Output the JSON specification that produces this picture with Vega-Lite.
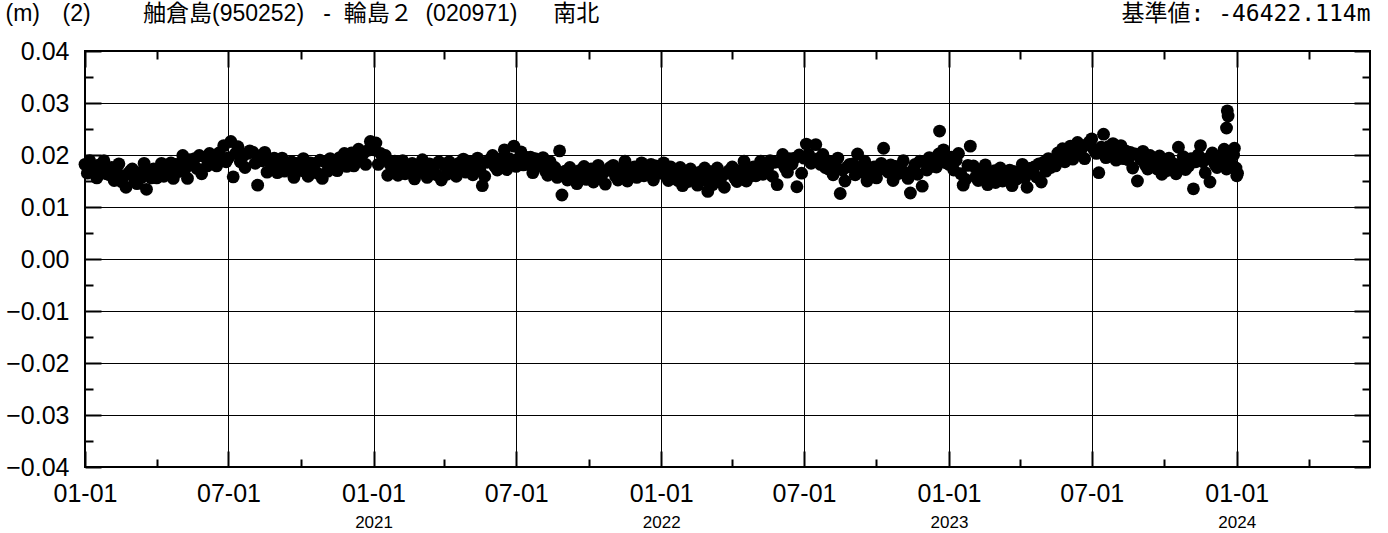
{
  "$schema": "https://vega.github.io/schema/vega-lite/v6.json",
  "width": 1285,
  "height": 416,
  "autosize": {"type": "none"},
  "padding": {"left": 85, "top": 51, "right": 18, "bottom": 66},
  "background": "white",
  "config": {"view": {"stroke": "black", "strokeWidth": 2}, "axis": {"domain": false}},
  "data": {"values": [
{"t":"2020-01-01","v":0.0182},{"t":"2020-01-04","v":0.0165},{"t":"2020-01-07","v":0.0189},{"t":"2020-01-10","v":0.0172},{"t":"2020-01-13","v":0.0178},{"t":"2020-01-16","v":0.0156},{"t":"2020-01-19","v":0.0181},{"t":"2020-01-22","v":0.0170},{"t":"2020-01-25","v":0.0189},{"t":"2020-01-28","v":0.0164},
{"t":"2020-02-01","v":0.0162},{"t":"2020-02-04","v":0.0176},{"t":"2020-02-07","v":0.0151},{"t":"2020-02-10","v":0.0170},{"t":"2020-02-13","v":0.0183},{"t":"2020-02-16","v":0.0149},{"t":"2020-02-19","v":0.0159},{"t":"2020-02-22","v":0.0138},{"t":"2020-02-25","v":0.0165},{"t":"2020-02-28","v":0.0170},
{"t":"2020-03-01","v":0.0173},{"t":"2020-03-04","v":0.0152},{"t":"2020-03-07","v":0.0145},{"t":"2020-03-10","v":0.0166},{"t":"2020-03-13","v":0.0157},{"t":"2020-03-16","v":0.0184},{"t":"2020-03-19","v":0.0134},{"t":"2020-03-22","v":0.0167},{"t":"2020-03-25","v":0.0156},{"t":"2020-03-28","v":0.0173},
{"t":"2020-04-01","v":0.0156},{"t":"2020-04-04","v":0.0171},{"t":"2020-04-07","v":0.0184},{"t":"2020-04-10","v":0.0159},{"t":"2020-04-13","v":0.0174},{"t":"2020-04-16","v":0.0171},{"t":"2020-04-19","v":0.0185},{"t":"2020-04-22","v":0.0155},{"t":"2020-04-25","v":0.0182},{"t":"2020-04-28","v":0.0168},
{"t":"2020-05-01","v":0.0184},{"t":"2020-05-04","v":0.0199},{"t":"2020-05-07","v":0.0173},{"t":"2020-05-10","v":0.0155},{"t":"2020-05-13","v":0.0191},{"t":"2020-05-16","v":0.0182},{"t":"2020-05-19","v":0.0193},{"t":"2020-05-22","v":0.0174},{"t":"2020-05-25","v":0.0199},{"t":"2020-05-28","v":0.0164},
{"t":"2020-06-01","v":0.0196},{"t":"2020-06-04","v":0.0179},{"t":"2020-06-07","v":0.0203},{"t":"2020-06-10","v":0.0186},{"t":"2020-06-13","v":0.0192},{"t":"2020-06-16","v":0.0179},{"t":"2020-06-19","v":0.0204},{"t":"2020-06-22","v":0.0193},{"t":"2020-06-25","v":0.0218},{"t":"2020-06-28","v":0.0187},
{"t":"2020-07-01","v":0.0195},{"t":"2020-07-04","v":0.0226},{"t":"2020-07-07","v":0.0158},{"t":"2020-07-10","v":0.0203},{"t":"2020-07-13","v":0.0216},{"t":"2020-07-16","v":0.0187},{"t":"2020-07-19","v":0.0197},{"t":"2020-07-22","v":0.0176},{"t":"2020-07-25","v":0.0203},{"t":"2020-07-28","v":0.0208},
{"t":"2020-08-01","v":0.0205},{"t":"2020-08-04","v":0.0184},{"t":"2020-08-07","v":0.0142},{"t":"2020-08-10","v":0.0198},{"t":"2020-08-13","v":0.0189},{"t":"2020-08-16","v":0.0205},{"t":"2020-08-19","v":0.0167},{"t":"2020-08-22","v":0.0188},{"t":"2020-08-25","v":0.0177},{"t":"2020-08-28","v":0.0194},
{"t":"2020-09-01","v":0.0166},{"t":"2020-09-04","v":0.0181},{"t":"2020-09-07","v":0.0194},{"t":"2020-09-10","v":0.0169},{"t":"2020-09-13","v":0.0184},{"t":"2020-09-16","v":0.0173},{"t":"2020-09-19","v":0.0187},{"t":"2020-09-22","v":0.0157},{"t":"2020-09-25","v":0.0184},{"t":"2020-09-28","v":0.0170},
{"t":"2020-10-01","v":0.0178},{"t":"2020-10-04","v":0.0193},{"t":"2020-10-07","v":0.0167},{"t":"2020-10-10","v":0.0159},{"t":"2020-10-13","v":0.0185},{"t":"2020-10-16","v":0.0173},{"t":"2020-10-19","v":0.0184},{"t":"2020-10-22","v":0.0165},{"t":"2020-10-25","v":0.0190},{"t":"2020-10-28","v":0.0155},
{"t":"2020-11-01","v":0.0186},{"t":"2020-11-04","v":0.0169},{"t":"2020-11-07","v":0.0193},{"t":"2020-11-10","v":0.0176},{"t":"2020-11-13","v":0.0182},{"t":"2020-11-16","v":0.0170},{"t":"2020-11-19","v":0.0195},{"t":"2020-11-22","v":0.0184},{"t":"2020-11-25","v":0.0203},{"t":"2020-11-28","v":0.0178},
{"t":"2020-12-01","v":0.0190},{"t":"2020-12-04","v":0.0204},{"t":"2020-12-07","v":0.0179},{"t":"2020-12-10","v":0.0198},{"t":"2020-12-13","v":0.0211},{"t":"2020-12-16","v":0.0193},{"t":"2020-12-19","v":0.0203},{"t":"2020-12-22","v":0.0182},{"t":"2020-12-25","v":0.0209},{"t":"2020-12-28","v":0.0226},
{"t":"2021-01-01","v":0.0210},{"t":"2021-01-04","v":0.0223},{"t":"2021-01-07","v":0.0182},{"t":"2021-01-10","v":0.0203},{"t":"2021-01-13","v":0.0194},{"t":"2021-01-16","v":0.0199},{"t":"2021-01-19","v":0.0161},{"t":"2021-01-22","v":0.0182},{"t":"2021-01-25","v":0.0171},{"t":"2021-01-28","v":0.0188},
{"t":"2021-02-01","v":0.0161},{"t":"2021-02-04","v":0.0176},{"t":"2021-02-07","v":0.0189},{"t":"2021-02-10","v":0.0164},{"t":"2021-02-13","v":0.0179},{"t":"2021-02-16","v":0.0170},{"t":"2021-02-19","v":0.0184},{"t":"2021-02-22","v":0.0154},{"t":"2021-02-25","v":0.0181},{"t":"2021-02-28","v":0.0167},
{"t":"2021-03-01","v":0.0176},{"t":"2021-03-04","v":0.0191},{"t":"2021-03-07","v":0.0165},{"t":"2021-03-10","v":0.0157},{"t":"2021-03-13","v":0.0183},{"t":"2021-03-16","v":0.0170},{"t":"2021-03-19","v":0.0181},{"t":"2021-03-22","v":0.0162},{"t":"2021-03-25","v":0.0187},{"t":"2021-03-28","v":0.0152},
{"t":"2021-04-01","v":0.0180},{"t":"2021-04-04","v":0.0163},{"t":"2021-04-07","v":0.0187},{"t":"2021-04-10","v":0.0170},{"t":"2021-04-13","v":0.0176},{"t":"2021-04-16","v":0.0159},{"t":"2021-04-19","v":0.0184},{"t":"2021-04-22","v":0.0173},{"t":"2021-04-25","v":0.0192},{"t":"2021-04-28","v":0.0167},
{"t":"2021-05-01","v":0.0173},{"t":"2021-05-04","v":0.0187},{"t":"2021-05-07","v":0.0162},{"t":"2021-05-10","v":0.0181},{"t":"2021-05-13","v":0.0194},{"t":"2021-05-16","v":0.0170},{"t":"2021-05-19","v":0.0141},{"t":"2021-05-22","v":0.0159},{"t":"2021-05-25","v":0.0186},{"t":"2021-05-28","v":0.0191},
{"t":"2021-06-01","v":0.0199},{"t":"2021-06-04","v":0.0178},{"t":"2021-06-07","v":0.0171},{"t":"2021-06-10","v":0.0192},{"t":"2021-06-13","v":0.0183},{"t":"2021-06-16","v":0.0210},{"t":"2021-06-19","v":0.0172},{"t":"2021-06-22","v":0.0193},{"t":"2021-06-25","v":0.0182},{"t":"2021-06-28","v":0.0217},
{"t":"2021-07-01","v":0.0178},{"t":"2021-07-04","v":0.0193},{"t":"2021-07-07","v":0.0206},{"t":"2021-07-10","v":0.0181},{"t":"2021-07-13","v":0.0196},{"t":"2021-07-16","v":0.0182},{"t":"2021-07-19","v":0.0196},{"t":"2021-07-22","v":0.0166},{"t":"2021-07-25","v":0.0193},{"t":"2021-07-28","v":0.0179},
{"t":"2021-08-01","v":0.0180},{"t":"2021-08-04","v":0.0195},{"t":"2021-08-07","v":0.0169},{"t":"2021-08-10","v":0.0161},{"t":"2021-08-13","v":0.0187},{"t":"2021-08-16","v":0.0165},{"t":"2021-08-19","v":0.0176},{"t":"2021-08-22","v":0.0157},{"t":"2021-08-25","v":0.0208},{"t":"2021-08-28","v":0.0123},
{"t":"2021-09-01","v":0.0169},{"t":"2021-09-04","v":0.0152},{"t":"2021-09-07","v":0.0176},{"t":"2021-09-10","v":0.0159},{"t":"2021-09-13","v":0.0165},{"t":"2021-09-16","v":0.0145},{"t":"2021-09-19","v":0.0170},{"t":"2021-09-22","v":0.0159},{"t":"2021-09-25","v":0.0178},{"t":"2021-09-28","v":0.0153},
{"t":"2021-10-01","v":0.0159},{"t":"2021-10-04","v":0.0173},{"t":"2021-10-07","v":0.0148},{"t":"2021-10-10","v":0.0167},{"t":"2021-10-13","v":0.0180},{"t":"2021-10-16","v":0.0155},{"t":"2021-10-19","v":0.0165},{"t":"2021-10-22","v":0.0144},{"t":"2021-10-25","v":0.0171},{"t":"2021-10-28","v":0.0176},
{"t":"2021-11-01","v":0.0180},{"t":"2021-11-04","v":0.0159},{"t":"2021-11-07","v":0.0152},{"t":"2021-11-10","v":0.0173},{"t":"2021-11-13","v":0.0164},{"t":"2021-11-16","v":0.0188},{"t":"2021-11-19","v":0.0150},{"t":"2021-11-22","v":0.0171},{"t":"2021-11-25","v":0.0160},{"t":"2021-11-28","v":0.0177},
{"t":"2021-12-01","v":0.0157},{"t":"2021-12-04","v":0.0172},{"t":"2021-12-07","v":0.0185},{"t":"2021-12-10","v":0.0160},{"t":"2021-12-13","v":0.0175},{"t":"2021-12-16","v":0.0168},{"t":"2021-12-19","v":0.0182},{"t":"2021-12-22","v":0.0152},{"t":"2021-12-25","v":0.0179},{"t":"2021-12-28","v":0.0165},
{"t":"2022-01-01","v":0.0170},{"t":"2022-01-04","v":0.0185},{"t":"2022-01-07","v":0.0159},{"t":"2022-01-10","v":0.0151},{"t":"2022-01-13","v":0.0177},{"t":"2022-01-16","v":0.0159},{"t":"2022-01-19","v":0.0170},{"t":"2022-01-22","v":0.0151},{"t":"2022-01-25","v":0.0176},{"t":"2022-01-28","v":0.0141},
{"t":"2022-02-01","v":0.0166},{"t":"2022-02-04","v":0.0149},{"t":"2022-02-07","v":0.0173},{"t":"2022-02-10","v":0.0156},{"t":"2022-02-13","v":0.0162},{"t":"2022-02-16","v":0.0142},{"t":"2022-02-19","v":0.0167},{"t":"2022-02-22","v":0.0156},{"t":"2022-02-25","v":0.0175},{"t":"2022-02-28","v":0.0150},
{"t":"2022-03-01","v":0.0130},{"t":"2022-03-04","v":0.0168},{"t":"2022-03-07","v":0.0143},{"t":"2022-03-10","v":0.0162},{"t":"2022-03-13","v":0.0175},{"t":"2022-03-16","v":0.0149},{"t":"2022-03-19","v":0.0159},{"t":"2022-03-22","v":0.0138},{"t":"2022-03-25","v":0.0165},{"t":"2022-03-28","v":0.0170},
{"t":"2022-04-01","v":0.0177},{"t":"2022-04-04","v":0.0156},{"t":"2022-04-07","v":0.0149},{"t":"2022-04-10","v":0.0170},{"t":"2022-04-13","v":0.0161},{"t":"2022-04-16","v":0.0188},{"t":"2022-04-19","v":0.0150},{"t":"2022-04-22","v":0.0171},{"t":"2022-04-25","v":0.0160},{"t":"2022-04-28","v":0.0177},
{"t":"2022-05-01","v":0.0160},{"t":"2022-05-04","v":0.0175},{"t":"2022-05-07","v":0.0188},{"t":"2022-05-10","v":0.0163},{"t":"2022-05-13","v":0.0178},{"t":"2022-05-16","v":0.0175},{"t":"2022-05-19","v":0.0189},{"t":"2022-05-22","v":0.0159},{"t":"2022-05-25","v":0.0186},{"t":"2022-05-28","v":0.0143},
{"t":"2022-06-01","v":0.0186},{"t":"2022-06-04","v":0.0201},{"t":"2022-06-07","v":0.0175},{"t":"2022-06-10","v":0.0167},{"t":"2022-06-13","v":0.0193},{"t":"2022-06-16","v":0.0183},{"t":"2022-06-19","v":0.0194},{"t":"2022-06-22","v":0.0139},{"t":"2022-06-25","v":0.0200},{"t":"2022-06-28","v":0.0165},
{"t":"2022-07-01","v":0.0194},{"t":"2022-07-04","v":0.0221},{"t":"2022-07-07","v":0.0201},{"t":"2022-07-10","v":0.0184},{"t":"2022-07-13","v":0.0190},{"t":"2022-07-16","v":0.0220},{"t":"2022-07-19","v":0.0193},{"t":"2022-07-22","v":0.0182},{"t":"2022-07-25","v":0.0201},{"t":"2022-07-28","v":0.0176},
{"t":"2022-08-01","v":0.0173},{"t":"2022-08-04","v":0.0187},{"t":"2022-08-07","v":0.0162},{"t":"2022-08-10","v":0.0181},{"t":"2022-08-13","v":0.0194},{"t":"2022-08-16","v":0.0126},{"t":"2022-08-19","v":0.0171},{"t":"2022-08-22","v":0.0150},{"t":"2022-08-25","v":0.0177},{"t":"2022-08-28","v":0.0182},
{"t":"2022-09-01","v":0.0183},{"t":"2022-09-04","v":0.0162},{"t":"2022-09-07","v":0.0202},{"t":"2022-09-10","v":0.0176},{"t":"2022-09-13","v":0.0167},{"t":"2022-09-16","v":0.0188},{"t":"2022-09-19","v":0.0150},{"t":"2022-09-22","v":0.0171},{"t":"2022-09-25","v":0.0160},{"t":"2022-09-28","v":0.0177},
{"t":"2022-10-01","v":0.0156},{"t":"2022-10-04","v":0.0171},{"t":"2022-10-07","v":0.0184},{"t":"2022-10-10","v":0.0213},{"t":"2022-10-13","v":0.0174},{"t":"2022-10-16","v":0.0167},{"t":"2022-10-19","v":0.0181},{"t":"2022-10-22","v":0.0151},{"t":"2022-10-25","v":0.0178},{"t":"2022-10-28","v":0.0164},
{"t":"2022-11-01","v":0.0174},{"t":"2022-11-04","v":0.0189},{"t":"2022-11-07","v":0.0163},{"t":"2022-11-10","v":0.0155},{"t":"2022-11-13","v":0.0127},{"t":"2022-11-16","v":0.0171},{"t":"2022-11-19","v":0.0182},{"t":"2022-11-22","v":0.0163},{"t":"2022-11-25","v":0.0188},{"t":"2022-11-28","v":0.0140},
{"t":"2022-12-01","v":0.0188},{"t":"2022-12-04","v":0.0171},{"t":"2022-12-07","v":0.0195},{"t":"2022-12-10","v":0.0178},{"t":"2022-12-13","v":0.0184},{"t":"2022-12-16","v":0.0177},{"t":"2022-12-19","v":0.0202},{"t":"2022-12-20","v":0.0246},{"t":"2022-12-22","v":0.0191},{"t":"2022-12-25","v":0.0210},{"t":"2022-12-28","v":0.0185},
{"t":"2023-01-01","v":0.0182},{"t":"2023-01-04","v":0.0196},{"t":"2023-01-07","v":0.0171},{"t":"2023-01-10","v":0.0190},{"t":"2023-01-13","v":0.0203},{"t":"2023-01-16","v":0.0164},{"t":"2023-01-19","v":0.0142},{"t":"2023-01-22","v":0.0153},{"t":"2023-01-25","v":0.0180},{"t":"2023-01-28","v":0.0217},
{"t":"2023-02-01","v":0.0179},{"t":"2023-02-04","v":0.0158},{"t":"2023-02-07","v":0.0151},{"t":"2023-02-10","v":0.0172},{"t":"2023-02-13","v":0.0163},{"t":"2023-02-16","v":0.0181},{"t":"2023-02-19","v":0.0143},{"t":"2023-02-22","v":0.0164},{"t":"2023-02-25","v":0.0153},{"t":"2023-02-28","v":0.0170},
{"t":"2023-03-01","v":0.0147},{"t":"2023-03-04","v":0.0162},{"t":"2023-03-07","v":0.0175},{"t":"2023-03-10","v":0.0150},{"t":"2023-03-13","v":0.0165},{"t":"2023-03-16","v":0.0157},{"t":"2023-03-19","v":0.0171},{"t":"2023-03-22","v":0.0141},{"t":"2023-03-25","v":0.0168},{"t":"2023-03-28","v":0.0154},
{"t":"2023-04-01","v":0.0167},{"t":"2023-04-04","v":0.0182},{"t":"2023-04-07","v":0.0156},{"t":"2023-04-10","v":0.0138},{"t":"2023-04-13","v":0.0174},{"t":"2023-04-16","v":0.0166},{"t":"2023-04-19","v":0.0177},{"t":"2023-04-22","v":0.0158},{"t":"2023-04-25","v":0.0183},{"t":"2023-04-28","v":0.0148},
{"t":"2023-05-01","v":0.0186},{"t":"2023-05-04","v":0.0169},{"t":"2023-05-07","v":0.0193},{"t":"2023-05-10","v":0.0176},{"t":"2023-05-13","v":0.0182},{"t":"2023-05-16","v":0.0179},{"t":"2023-05-19","v":0.0204},{"t":"2023-05-22","v":0.0193},{"t":"2023-05-25","v":0.0212},{"t":"2023-05-28","v":0.0187},
{"t":"2023-06-01","v":0.0203},{"t":"2023-06-04","v":0.0217},{"t":"2023-06-07","v":0.0192},{"t":"2023-06-10","v":0.0211},{"t":"2023-06-13","v":0.0224},{"t":"2023-06-16","v":0.0204},{"t":"2023-06-19","v":0.0214},{"t":"2023-06-22","v":0.0193},{"t":"2023-06-25","v":0.0220},{"t":"2023-06-28","v":0.0225},
{"t":"2023-07-01","v":0.0231},{"t":"2023-07-04","v":0.0210},{"t":"2023-07-07","v":0.0203},{"t":"2023-07-10","v":0.0166},{"t":"2023-07-13","v":0.0215},{"t":"2023-07-16","v":0.0240},{"t":"2023-07-19","v":0.0195},{"t":"2023-07-22","v":0.0216},{"t":"2023-07-25","v":0.0205},{"t":"2023-07-28","v":0.0222},
{"t":"2023-08-01","v":0.0190},{"t":"2023-08-04","v":0.0205},{"t":"2023-08-07","v":0.0218},{"t":"2023-08-10","v":0.0193},{"t":"2023-08-13","v":0.0208},{"t":"2023-08-16","v":0.0191},{"t":"2023-08-19","v":0.0205},{"t":"2023-08-22","v":0.0175},{"t":"2023-08-25","v":0.0202},{"t":"2023-08-28","v":0.0150},
{"t":"2023-09-01","v":0.0192},{"t":"2023-09-04","v":0.0207},{"t":"2023-09-07","v":0.0181},{"t":"2023-09-10","v":0.0173},{"t":"2023-09-13","v":0.0199},{"t":"2023-09-16","v":0.0181},{"t":"2023-09-19","v":0.0192},{"t":"2023-09-22","v":0.0173},{"t":"2023-09-25","v":0.0198},{"t":"2023-09-28","v":0.0163},
{"t":"2023-10-01","v":0.0187},{"t":"2023-10-04","v":0.0170},{"t":"2023-10-07","v":0.0194},{"t":"2023-10-10","v":0.0177},{"t":"2023-10-13","v":0.0183},{"t":"2023-10-16","v":0.0164},{"t":"2023-10-19","v":0.0215},{"t":"2023-10-22","v":0.0178},{"t":"2023-10-25","v":0.0197},{"t":"2023-10-28","v":0.0172},
{"t":"2023-11-01","v":0.0179},{"t":"2023-11-04","v":0.0193},{"t":"2023-11-07","v":0.0135},{"t":"2023-11-10","v":0.0187},{"t":"2023-11-13","v":0.0200},{"t":"2023-11-16","v":0.0218},{"t":"2023-11-19","v":0.0187},{"t":"2023-11-22","v":0.0166},{"t":"2023-11-25","v":0.0193},{"t":"2023-11-28","v":0.0148},
{"t":"2023-12-01","v":0.0204},{"t":"2023-12-04","v":0.0183},{"t":"2023-12-07","v":0.0176},{"t":"2023-12-10","v":0.0197},{"t":"2023-12-13","v":0.0188},{"t":"2023-12-16","v":0.0211},{"t":"2023-12-19","v":0.0173},{"t":"2023-12-19","v":0.0252},{"t":"2023-12-20","v":0.0285},{"t":"2023-12-21","v":0.0275},{"t":"2023-12-22","v":0.0194},{"t":"2023-12-25","v":0.0183},{"t":"2023-12-28","v":0.0200},{"t":"2023-12-29","v":0.0213},{"t":"2023-12-31","v":0.0175},{"t":"2024-01-01","v":0.0160},{"t":"2024-01-02","v":0.0165}
  ]},
  "layer": [
    {
      "mark": {"type": "circle", "size": 165, "color": "black", "opacity": 1},
      "encoding": {
        "x": {"field": "t", "type": "temporal",
          "scale": {"type": "utc", "nice": false, "domain": [{"year": 2020, "month": 1, "date": 1, "utc": true}, {"year": 2024, "month": 6, "date": 18, "utc": true}]},
          "axis": {
            "orient": "bottom", "title": null,
            "values": [
              {"year": 2020, "month": 1, "date": 1, "utc": true}, {"year": 2020, "month": 4, "date": 1, "utc": true}, {"year": 2020, "month": 7, "date": 1, "utc": true}, {"year": 2020, "month": 10, "date": 1, "utc": true},
              {"year": 2021, "month": 1, "date": 1, "utc": true}, {"year": 2021, "month": 4, "date": 1, "utc": true}, {"year": 2021, "month": 7, "date": 1, "utc": true}, {"year": 2021, "month": 10, "date": 1, "utc": true},
              {"year": 2022, "month": 1, "date": 1, "utc": true}, {"year": 2022, "month": 4, "date": 1, "utc": true}, {"year": 2022, "month": 7, "date": 1, "utc": true}, {"year": 2022, "month": 10, "date": 1, "utc": true},
              {"year": 2023, "month": 1, "date": 1, "utc": true}, {"year": 2023, "month": 4, "date": 1, "utc": true}, {"year": 2023, "month": 7, "date": 1, "utc": true}, {"year": 2023, "month": 10, "date": 1, "utc": true},
              {"year": 2024, "month": 1, "date": 1, "utc": true}, {"year": 2024, "month": 4, "date": 1, "utc": true}
            ],
            "labelExpr": "utcmonth(datum.value) % 6 == 0 ? utcFormat(datum.value, '%m-%d') : ''",
            "labelFont": "Liberation Sans", "labelFontSize": 25, "labelColor": "black",
            "labelPadding": 30, "labelFlush": false, "labelOverlap": false,
            "tickColor": "black", "tickWidth": 2,
            "tickSize": {"condition": {"test": "utcmonth(datum.value) % 6 == 0", "value": -16}, "value": -8},
            "grid": true, "gridColor": "black", "gridWidth": 1,
            "gridOpacity": {"condition": {"test": "utcmonth(datum.value) % 6 == 0", "value": 1}, "value": 0}
          }
        },
        "y": {"field": "v", "type": "quantitative",
          "scale": {"domain": [-0.04, 0.04], "nice": false, "zero": false},
          "axis": {
            "orient": "left",
            "values": [-0.04, -0.035, -0.03, -0.025, -0.02, -0.015, -0.01, -0.005, 0, 0.005, 0.01, 0.015, 0.02, 0.025, 0.03, 0.035, 0.04],
            "format": ".2f",
            "labelExpr": "abs(datum.value * 100 - round(datum.value * 100)) < 0.01 ? datum.label : ''",
            "labelFont": "Liberation Sans", "labelFontSize": 25, "labelColor": "black",
            "labelPadding": 32, "labelFlush": false, "labelOverlap": false,
            "tickColor": "black", "tickWidth": 2,
            "tickSize": {"condition": {"test": "abs(datum.value * 100 - round(datum.value * 100)) < 0.01", "value": -16}, "value": -8},
            "grid": true, "gridColor": "black", "gridWidth": 1,
            "gridOpacity": {"condition": {"test": "abs(datum.value * 100 - round(datum.value * 100)) < 0.01", "value": 1}, "value": 0},
            "title": "(m)", "titleAngle": 0, "titleX": -80, "titleY": -38, "titleAlign": "left", "titleBaseline": "middle",
            "titleFont": "Liberation Sans", "titleFontSize": 23, "titleFontWeight": "normal", "titleColor": "black"
          }
        }
      }
    },
    {
      "transform": [{"filter": "datum.v > 0.028"}],
      "mark": {"type": "circle", "size": 165, "color": "black", "opacity": 0},
      "encoding": {
        "x": {"field": "t", "type": "temporal",
          "scale": {"type": "utc", "nice": false, "domain": [{"year": 2020, "month": 1, "date": 1, "utc": true}, {"year": 2024, "month": 6, "date": 18, "utc": true}]},
          "axis": {
            "orient": "bottom", "title": null,
            "values": [{"year": 2021, "month": 1, "date": 1, "utc": true}, {"year": 2022, "month": 1, "date": 1, "utc": true}, {"year": 2023, "month": 1, "date": 1, "utc": true}, {"year": 2024, "month": 1, "date": 1, "utc": true}],
            "format": "%Y", "ticks": false, "grid": false,
            "labelFont": "Liberation Sans", "labelFontSize": 17, "labelColor": "black",
            "labelPadding": 47, "labelFlush": false, "labelOverlap": false
          }
        },
        "y": {"field": "v", "type": "quantitative",
          "scale": {"domain": [-0.04, 0.04], "nice": false, "zero": false},
          "axis": {
            "orient": "right",
            "values": [-0.04, -0.035, -0.03, -0.025, -0.02, -0.015, -0.01, -0.005, 0, 0.005, 0.01, 0.015, 0.02, 0.025, 0.03, 0.035, 0.04],
            "labels": false, "grid": false,
            "tickColor": "black", "tickWidth": 2,
            "tickSize": {"condition": {"test": "abs(datum.value * 100 - round(datum.value * 100)) < 0.01", "value": -16}, "value": -8},
            "title": "基準値: -46422.114m", "titleAngle": 0, "titleX": 0, "titleY": -38, "titleAlign": "right", "titleBaseline": "middle",
            "titleFont": "DejaVu Sans Mono, Noto Sans CJK JP", "titleFontSize": 23, "titleFontWeight": "normal", "titleColor": "black"
          }
        }
      }
    },
    {
      "transform": [{"filter": "datum.v > 0.028"}],
      "mark": {"type": "circle", "size": 165, "color": "black", "opacity": 0},
      "encoding": {
        "x": {"field": "t", "type": "temporal",
          "scale": {"type": "utc", "nice": false, "domain": [{"year": 2020, "month": 1, "date": 1, "utc": true}, {"year": 2024, "month": 6, "date": 18, "utc": true}]},
          "axis": {
            "orient": "top",
            "values": [
              {"year": 2020, "month": 1, "date": 1, "utc": true}, {"year": 2020, "month": 4, "date": 1, "utc": true}, {"year": 2020, "month": 7, "date": 1, "utc": true}, {"year": 2020, "month": 10, "date": 1, "utc": true},
              {"year": 2021, "month": 1, "date": 1, "utc": true}, {"year": 2021, "month": 4, "date": 1, "utc": true}, {"year": 2021, "month": 7, "date": 1, "utc": true}, {"year": 2021, "month": 10, "date": 1, "utc": true},
              {"year": 2022, "month": 1, "date": 1, "utc": true}, {"year": 2022, "month": 4, "date": 1, "utc": true}, {"year": 2022, "month": 7, "date": 1, "utc": true}, {"year": 2022, "month": 10, "date": 1, "utc": true},
              {"year": 2023, "month": 1, "date": 1, "utc": true}, {"year": 2023, "month": 4, "date": 1, "utc": true}, {"year": 2023, "month": 7, "date": 1, "utc": true}, {"year": 2023, "month": 10, "date": 1, "utc": true},
              {"year": 2024, "month": 1, "date": 1, "utc": true}, {"year": 2024, "month": 4, "date": 1, "utc": true}
            ],
            "labels": false, "grid": false,
            "tickColor": "black", "tickWidth": 2,
            "tickSize": {"condition": {"test": "utcmonth(datum.value) % 6 == 0", "value": -16}, "value": -8},
            "title": "(2)\u3000\u3000\u00a0舳倉島(950252)\u00a0\u00a0\u00a0-\u00a0\u00a0輪島２\u00a0\u00a0(020971)\u3000\u00a0\u00a0南北", "titleAngle": 0, "titleX": -23, "titleY": -38, "titleAlign": "left", "titleBaseline": "middle",
            "titleFont": "Liberation Sans, Noto Sans CJK JP", "titleFontSize": 23, "titleFontWeight": "normal", "titleColor": "black"
          }
        },
        "y": {"field": "v", "type": "quantitative",
          "scale": {"domain": [-0.04, 0.04], "nice": false, "zero": false},
          "axis": null
        }
      }
    }
  ],
  "resolve": {"axis": {"x": "independent", "y": "independent"}}
}
